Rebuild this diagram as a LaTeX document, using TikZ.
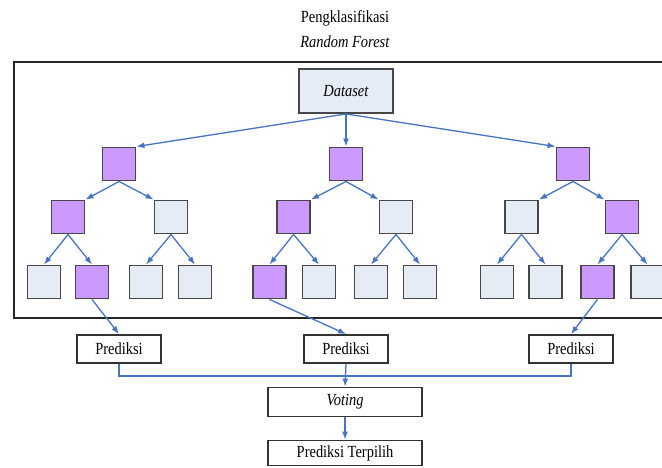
\documentclass[tikz,border=0pt]{standalone}
\usepackage{fontspec}
\setmainfont{Liberation Serif}[FakeStretch=0.85]
\usepackage{tikz}
\usetikzlibrary{arrows.meta}
\definecolor{leafblue}{RGB}{230,236,246}
\definecolor{pickpurple}{RGB}{204,153,255}
\definecolor{linkblue}{RGB}{71,116,196}
\tikzset{
  lbl/.style={font=\rmfamily\fontsize{17}{20}\selectfont},
  leaf/.style={draw=black!72,line width=1.9pt,fill=leafblue,minimum width=33pt,minimum height=33pt,inner sep=0pt},
  pick/.style={leaf,fill=pickpurple},
  outbox/.style={lbl,draw=black!80,line width=1.8pt,fill=white,inner sep=0pt},
  link/.style={draw=linkblue,line width=1.3pt,-{Latex[length=8pt,width=6pt]}},
  wire/.style={draw=linkblue,line width=1.3pt}
}
\begin{document}
\begin{tikzpicture}[x=1pt,y=-1pt]
   \useasboundingbox (0,0) rectangle (662,468);
   \node[lbl] (title1) at (345,18) {Pengklasifikasi};
   \node[lbl] (title2) at (345,42) {\textit{Random Forest}};
   \draw[line width=1.6pt,draw=black!85] (14,62) rectangle (670,318);
   \node[leaf,lbl,minimum width=94pt,minimum height=44pt] (ds) at (346,91) {\textit{Dataset}};
   \node[pick] (a) at (119,164) {};
   \node[pick] (b) at (346,164) {};
   \node[pick] (c) at (573,164) {};
   \node[pick] (a1) at (68,217) {};
   \node[leaf] (a2) at (171,217) {};
   \node[pick] (b1) at (293.5,217) {};
   \node[leaf] (b2) at (396,217) {};
   \node[leaf] (c1) at (521.5,217) {};
   \node[pick] (c2) at (622,217) {};
   \node[leaf] (a11) at (44,282) {};
   \node[pick] (a12) at (92,282) {};
   \node[leaf] (a21) at (146,282) {};
   \node[leaf] (a22) at (195,282) {};
   \node[pick] (b11) at (269.5,282) {};
   \node[leaf] (b12) at (319,282) {};
   \node[leaf] (b21) at (371,282) {};
   \node[leaf] (b22) at (420,282) {};
   \node[leaf] (c11) at (497,282) {};
   \node[leaf] (c12) at (545.5,282) {};
   \node[pick] (c21) at (597.5,282) {};
   \node[leaf] (c22) at (647.5,282) {};
   \node[outbox,minimum width=84pt,minimum height=28pt] (p1) at (119,349) {Prediksi};
   \node[outbox,minimum width=84pt,minimum height=28pt] (p2) at (346,349) {Prediksi};
   \node[outbox,minimum width=84pt,minimum height=28pt] (p3) at (571,349) {Prediksi};
   \node[outbox,minimum width=154pt,minimum height=29pt] (vote) at (345,402) {\textit{Voting}};
   \node[outbox,minimum width=154pt,minimum height=25pt] (hasil) at (345,453) {Prediksi Terpilih};
   \coordinate (jn) at (346,376);
   \draw[link] (ds.south) -- (a.north east);
   \draw[link] (ds.south) -- (b.north);
   \draw[link] (ds.south) -- (c.north west);
   \draw[link] (a.south) -- (a1.north east);
   \draw[link] (a.south) -- (a2.north west);
   \draw[link] (b.south) -- (b1.north east);
   \draw[link] (b.south) -- (b2.north west);
   \draw[link] (c.south) -- (c1.north east);
   \draw[link] (c.south) -- (c2.north west);
   \draw[link] (a1.south) -- (a11.north);
   \draw[link] (a1.south) -- (a12.north);
   \draw[link] (a2.south) -- (a21.north);
   \draw[link] (a2.south) -- (a22.north);
   \draw[link] (b1.south) -- (b11.north);
   \draw[link] (b1.south) -- (b12.north);
   \draw[link] (b2.south) -- (b21.north);
   \draw[link] (b2.south) -- (b22.north);
   \draw[link] (c1.south) -- (c11.north);
   \draw[link] (c1.south) -- (c12.north);
   \draw[link] (c2.south) -- (c21.north);
   \draw[link] (c2.south) -- (c22.north);
   \draw[link] (a12.south) -- (p1.north);
   \draw[link] (b11.south) -- (p2.north);
   \draw[link] (c21.south) -- (p3.north);
   \draw[wire] (p1.south) |- (jn) -| (p3.south);
   \draw[link] (p2.south) -- (vote.north);
   \draw[link] (vote.south) -- (hasil.north);
\end{tikzpicture}
\end{document}
